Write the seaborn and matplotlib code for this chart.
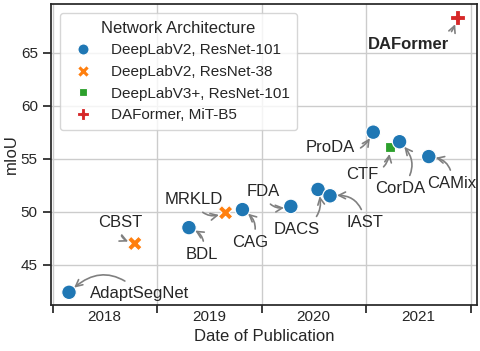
import pandas as pd
import matplotlib.pyplot as plt
import matplotlib.dates as mdates
import matplotlib.ticker as mticker
import seaborn as sns

# Dados
methods = ['AdaptSegNet', 'CBST', 'BDL', 'MRKLD', 'CAG', 'FDA', 'DACS', 'IAST',
           'ProDA', 'CTF', 'CorDA', 'CAMix', 'DAFormer']
dates = ['2018-02-27', '2018-10-15', '2019-04-22', '2019-08-28', '2019-10-26',
         '2020-04-12', '2020-07-16', '2020-08-27', '2021-01-25', '2021-03-25',
         '2021-04-27', '2021-08-07', '2021-11-15']
miou = [42.4, 47.0, 48.5, 49.9, 50.2, 50.5, 52.1, 51.5, 57.5, 56.1, 56.6, 55.2, 68.3]
archs = ['DeepLabV2, ResNet-101', 'DeepLabV2, ResNet-38', 'DeepLabV2, ResNet-101',
         'DeepLabV2, ResNet-38', 'DeepLabV2, ResNet-101', 'DeepLabV2, ResNet-101',
         'DeepLabV2, ResNet-101', 'DeepLabV2, ResNet-101', 'DeepLabV2, ResNet-101',
         'DeepLabV3+, ResNet-101', 'DeepLabV2, ResNet-101', 'DeepLabV2, ResNet-101',
         'DAFormer, MiT-B5']
arch_order = ['DeepLabV2, ResNet-101', 'DeepLabV2, ResNet-38',
              'DeepLabV3+, ResNet-101', 'DAFormer, MiT-B5']

# posição dos rótulos (deslocamento em pixels a partir do ponto)
label_offsets = [(71, -1), (-15, 21), (13, -27), (-32, 13), (8, -33), (-28, 15),
                 (-21, -40), (35, -27), (-43, -15), (-28, -27), (1, -47), (23, -27),
                 (-49, -27)]

df = pd.DataFrame({'Method': methods, 'Date': pd.to_datetime(dates),
                   'mIoU': miou, 'Network Architecture': archs})

sns.set_theme(context='notebook', style='ticks', palette='tab10',
              rc={'axes.grid': True})
plt.rcParams['font.family'] = ['Liberation Sans', 'DejaVu Sans']

fig, ax = plt.subplots(figsize=(4.81, 3.51), dpi=100)
fig.subplots_adjust(left=0.106, right=0.992, top=0.989, bottom=0.131)

sns.scatterplot(data=df, x='Date', y='mIoU', hue='Network Architecture',
                style='Network Architecture', hue_order=arch_order,
                style_order=arch_order, s=110, ax=ax)

for i, m in enumerate(methods):
    bold = 'bold' if m == 'DAFormer' else 'normal'
    ax.annotate(m, xy=(df['Date'][i], miou[i]), xytext=label_offsets[i],
                textcoords='offset pixels', ha='center', va='center',
                fontsize=12, fontweight=bold,
                arrowprops=dict(arrowstyle='->', color='gray', lw=1.2,
                                connectionstyle='arc3,rad=0.5', shrinkB=5))

ax.set_xlim(pd.Timestamp('2017-12-26'), pd.Timestamp('2022-01-23'))
ax.set_ylim(41.2, 69.6)
ax.set_yticks([45, 50, 55, 60, 65])

ax.xaxis.set_major_locator(mdates.YearLocator())
ax.xaxis.set_major_formatter(mticker.NullFormatter())
ax.xaxis.set_minor_locator(mdates.MonthLocator(bymonth=7))
ax.xaxis.set_minor_formatter(mdates.DateFormatter('%Y'))
ax.tick_params(axis='x', which='minor', length=0)
ax.set_xlabel('Date of Publication')
ax.set_ylabel('mIoU', labelpad=1)

sns.move_legend(ax, 'upper left', title='Network Architecture',
                borderaxespad=0.6, borderpad=0.5)
for h in ax.get_legend().legend_handles:
    h.set_markersize(8)

fig.savefig('out.png', dpi=100)
